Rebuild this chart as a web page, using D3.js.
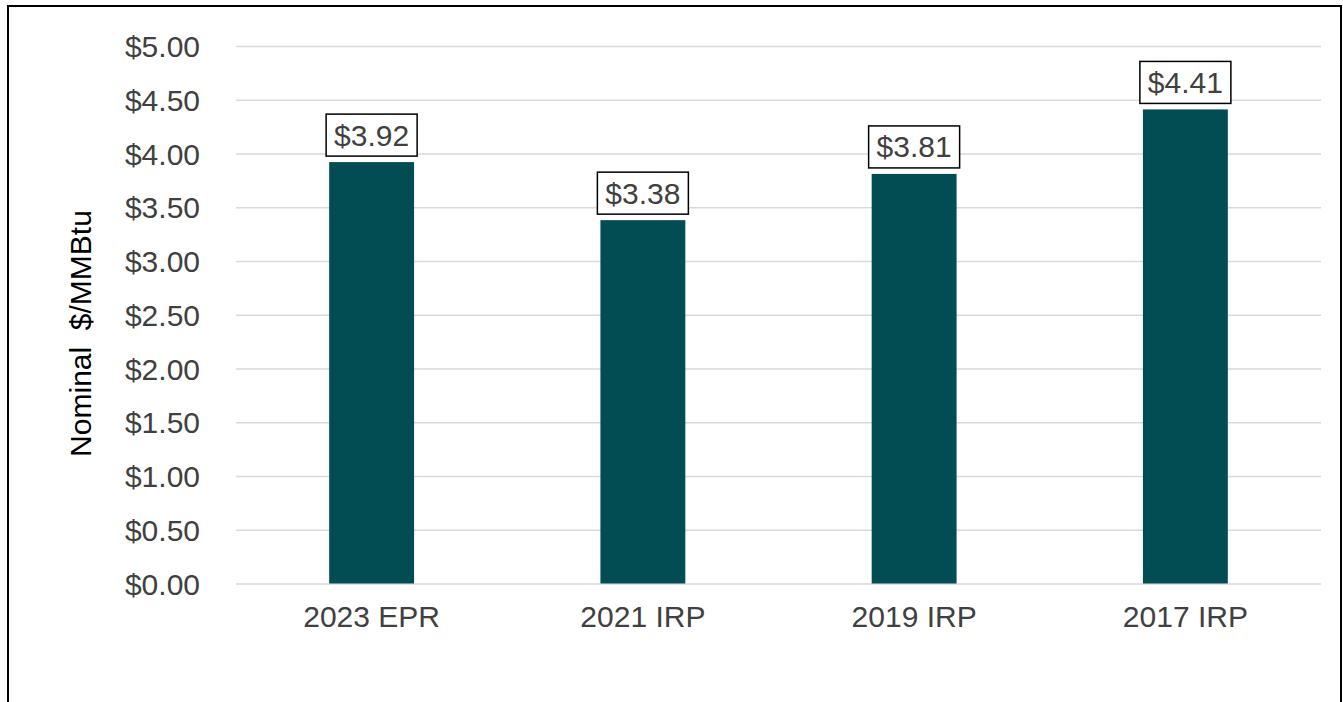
<!DOCTYPE html>
<html>
<head>
<meta charset="utf-8">
<script src="https://cdn.jsdelivr.net/npm/d3@7"></script>
<style>
  html, body { margin: 0; padding: 0; background: #fff; }
  svg { display: block; font-family: "Liberation Sans", Arial, sans-serif; }
  .tick text { fill: #404040; font-size: 30px; }
  .grid line { stroke: #d9d9d9; stroke-width: 1.5; }
  .grid .domain { display: none; }
</style>
</head>
<body>
<div id="chart"></div>
<script>
(function () {
  "use strict";

  // Data
  const categories = ["2023 EPR", "2021 IRP", "2019 IRP", "2017 IRP"];
  const values = [3.92, 3.38, 3.81, 4.41];
  const yTicks = [0, 0.5, 1, 1.5, 2, 2.5, 3, 3.5, 4, 4.5, 5];

  const totalW = 1343, totalH = 702;
  const plot = { left: 236, right: 1321, top: 46, bottom: 583.5 };

  const svg = d3.select("#chart").append("svg")
    .attr("width", totalW)
    .attr("height", totalH);

  // Outer border
  svg.append("rect")
    .attr("x", 8).attr("y", 6)
    .attr("width", 1333).attr("height", 720)
    .attr("fill", "none")
    .attr("stroke", "#000")
    .attr("stroke-width", 2);

  // Scales
  const x = d3.scaleBand()
    .domain(categories)
    .range([plot.left, plot.right])
    .paddingInner(0.687)
    .paddingOuter(0.3435);

  const y = d3.scaleLinear()
    .domain([0, 5])
    .range([plot.bottom, plot.top]);

  // Grid lines
  svg.append("g")
    .attr("class", "grid")
    .attr("transform", `translate(${plot.left},0)`)
    .call(d3.axisLeft(y).tickValues(yTicks).tickSize(-(plot.right - plot.left)).tickFormat(""));

  // Y axis labels
  const yAxis = svg.append("g")
    .attr("transform", `translate(${plot.left},0)`)
    .call(d3.axisLeft(y).tickValues(yTicks).tickSize(0).tickPadding(36)
      .tickFormat(d => "$" + d3.format(".2f")(d)));
  yAxis.select(".domain").remove();
  yAxis.selectAll("text").attr("dy", "0.35em");

  // X axis labels
  const xAxis = svg.append("g")
    .attr("transform", `translate(0,${plot.bottom})`)
    .call(d3.axisBottom(x).tickSize(0).tickPadding(22));
  xAxis.select(".domain").remove();

  // Y axis title
  svg.append("text")
    .attr("transform", "rotate(-90)")
    .attr("x", -333.5)
    .attr("y", 91)
    .attr("text-anchor", "middle")
    .attr("font-size", "30px")
    .attr("fill", "#000")
    .style("white-space", "pre")
    .text("Nominal  $/MMBtu");

  // Bars
  const rows = categories.map((c, i) => ({ cat: c, value: values[i] }));

  svg.selectAll(".bar")
    .data(rows)
    .join("rect")
    .attr("class", "bar")
    .attr("x", d => x(d.cat))
    .attr("width", x.bandwidth())
    .attr("y", d => y(d.value))
    .attr("height", d => y(0) - y(d.value))
    .attr("fill", "#024d53");

  // Value labels with boxes
  const boxW = 91, boxH = 42, gap = 6;
  const lbl = svg.selectAll(".val")
    .data(rows)
    .join("g")
    .attr("class", "val")
    .attr("transform", d => `translate(${x(d.cat) + x.bandwidth() / 2},${y(d.value) - gap - boxH / 2})`);

  lbl.append("rect")
    .attr("x", -boxW / 2).attr("y", -boxH / 2)
    .attr("width", boxW).attr("height", boxH)
    .attr("fill", "#fff")
    .attr("stroke", "#000")
    .attr("stroke-width", 1.5);

  lbl.append("text")
    .attr("text-anchor", "middle")
    .attr("dy", "0.35em")
    .attr("font-size", "30px")
    .attr("fill", "#404040")
    .text(d => "$" + d3.format(".2f")(d.value));
})();
</script>
</body>
</html>
